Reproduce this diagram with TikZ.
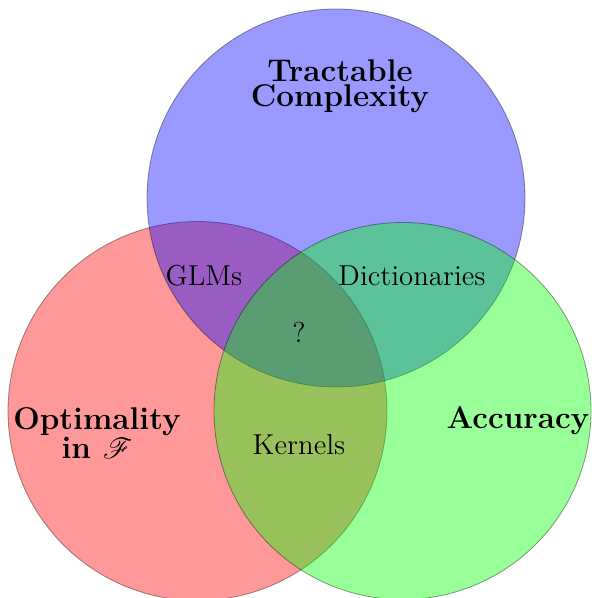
\documentclass[tikz,border=0pt]{standalone}
\usepackage{amsmath, amssymb}
\usepackage{mathrsfs}
\usepackage{tikz}

\begin{document}
\begin{tikzpicture}[x=0.5pt,y=0.5pt,yscale=-1,xscale=1,
  venn/.style={draw=black, line width=0.4pt, fill opacity=0.4, draw opacity=0.4},
  setlabel/.style={font={\fontsize{15.7}{12.5}\bfseries\selectfont}, align=center, inner sep=0.75pt},
  partlabel/.style={font=\Large, inner sep=0.75pt}]
%set diagram to the size of the reference
\useasboundingbox (0,0) rectangle (592,598);

%Shape: Circle [red]
\draw [venn, fill=red] (197.5,411) circle (189.5);
%Shape: Circle [blue]
\draw [venn, fill=blue] (336,198) circle (189);
%Shape: Circle [green]
\draw [venn, fill=green] (402.5,411) circle (188.5);

% Text Node
\node [setlabel] (tract) at (340,86) {Tractable\\Complexity};
% Text Node
\node [setlabel] (optim) at (97,433) {Optimality\\in $\mathscr{F}$};
% Text Node
\node [setlabel] (accur) at (518,421) {Accuracy};

% Text Node
\node [partlabel] (glms) at (204,276) {GLMs};
% Text Node
\node [partlabel] (dict) at (412,276) {Dictionaries};
% Text Node
\node [partlabel] (quest) at (299,332) {?};
% Text Node
\node [partlabel] (kern) at (299,445) {Kernels};

\end{tikzpicture}
\end{document}
